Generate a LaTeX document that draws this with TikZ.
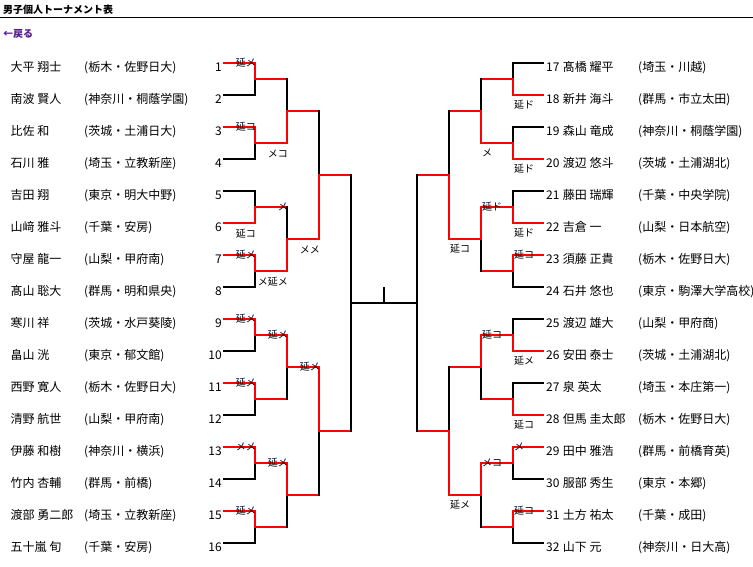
\documentclass[tikz,border=0pt]{standalone}
\usepackage{fontspec}
\setmainfont{Noto Sans CJK JP}
\usetikzlibrary{positioning,calc}

\definecolor{linkpurple}{RGB}{85,26,139}

\begin{document}
\begin{tikzpicture}[x=1pt,y=-1pt,
    every node/.style={inner sep=0pt},
    txt/.style={font=\fontsize{12}{14}\selectfont},
    res/.style={font=\fontsize{10}{12}\selectfont},
    win/.style={draw=red,line width=2pt,line cap=rect},
    lose/.style={draw=black,line width=2pt,line cap=rect}]

\useasboundingbox (0,0) rectangle (753,566);

\def\rowpitch{32}
\def\colpitch{32}

\newcommand\bout[6]
{
    \coordinate (#3-j) at ($(#1)!0.5!(#2)$);
    \coordinate (#3) at ([xshift=#6]#3-j);
    \draw [#4] (#1) -- (#3-j);
    \draw [#5] (#3-j) -- (#2);
    \draw [win] (#3-j) -- (#3);
}

\node [anchor=base west,font=\bfseries\fontsize{10}{12}\selectfont] (title) at (3,13) {男子個人トーナメント表};
\coordinate (rulel) at (0,17);
\coordinate (ruler) at (753,17);
\draw [line width=1pt] (rulel) -- (ruler);
\node [anchor=base west,font=\bfseries\fontsize{10}{12}\selectfont,text=linkpurple] (back) at (3,37) {←戻る};

\foreach \i/\nm/\sc/\st [evaluate=\i as \y using 63+\rowpitch*(\i-1)] in
    {1/{大平 翔士}/{(栃木・佐野日大)}/win, 2/{南波 賢人}/{(神奈川・桐蔭学園)}/lose,
     3/{比佐 和}/{(茨城・土浦日大)}/win, 4/{石川 雅}/{(埼玉・立教新座)}/lose,
     5/{吉田 翔}/{(東京・明大中野)}/lose, 6/{山﨑 雅斗}/{(千葉・安房)}/win,
     7/{守屋 龍一}/{(山梨・甲府南)}/win, 8/{髙山 聡大}/{(群馬・明和県央)}/lose,
     9/{寒川 祥}/{(茨城・水戸葵陵)}/win, 10/{畠山 洸}/{(東京・郁文館)}/lose,
     11/{西野 寛人}/{(栃木・佐野日大)}/win, 12/{清野 航世}/{(山梨・甲府南)}/lose,
     13/{伊藤 和樹}/{(神奈川・横浜)}/win, 14/{竹内 杏輔}/{(群馬・前橋)}/lose,
     15/{渡部 勇二郎}/{(埼玉・立教新座)}/win, 16/{五十嵐 旬}/{(千葉・安房)}/lose}
{
    \node [txt,anchor=base west] (nm\i) at (10.5,\y+8) {\nm};
    \node [txt,anchor=base west] (sc\i) at (84,\y+8) {\sc};
    \node [txt,anchor=base east] (no\i) at (222,\y+8) {\i};
    \coordinate (s\i) at (224,\y);
    \coordinate (p\i) at (255,\y);
    \draw [\st] (s\i) -- (p\i);
}

\foreach \i/\nm/\sc/\st [evaluate=\i as \y using 63+\rowpitch*(\i-17)] in
    {17/{髙橋 耀平}/{(埼玉・川越)}/lose, 18/{新井 海斗}/{(群馬・市立太田)}/win,
     19/{森山 竜成}/{(神奈川・桐蔭学園)}/lose, 20/{渡辺 悠斗}/{(茨城・土浦湖北)}/win,
     21/{藤田 瑞輝}/{(千葉・中央学院)}/lose, 22/{吉倉 一}/{(山梨・日本航空)}/win,
     23/{須藤 正貴}/{(栃木・佐野日大)}/win, 24/{石井 悠也}/{(東京・駒澤大学高校)}/lose,
     25/{渡辺 雄大}/{(山梨・甲府商)}/lose, 26/{安田 泰士}/{(茨城・土浦湖北)}/win,
     27/{泉 英太}/{(埼玉・本庄第一)}/lose, 28/{但馬 圭太郎}/{(栃木・佐野日大)}/win,
     29/{田中 雅浩}/{(群馬・前橋育英)}/win, 30/{服部 秀生}/{(東京・本郷)}/lose,
     31/{土方 祐太}/{(千葉・成田)}/win, 32/{山下 元}/{(神奈川・日大高)}/lose}
{
    \node [txt,anchor=base west] (no\i) at (546,\y+8) {\i};
    \node [txt,right=3pt of no\i.base east,anchor=base west] (nm\i) {\nm};
    \node [txt,anchor=base west] (sc\i) at (638,\y+8) {\sc};
    \coordinate (s\i) at (543,\y);
    \coordinate (p\i) at (513,\y);
    \draw [\st] (s\i) -- (p\i);
}

\foreach \m/\hi/\lo [evaluate=\m as \ua using int(2*\m-1), evaluate=\m as \ub using int(2*\m)] in
    {1/win/lose,2/win/lose,3/lose/win,4/win/lose,5/win/lose,6/win/lose,7/win/lose,8/win/lose}
    \bout{p\ua}{p\ub}{L1-\m}{\hi}{\lo}{\colpitch};
\foreach \m/\hi/\lo [evaluate=\m as \ua using int(2*\m-1), evaluate=\m as \ub using int(2*\m)] in
    {1/lose/win,2/lose/win,3/win/lose,4/win/lose}
    \bout{L1-\ua}{L1-\ub}{L2-\m}{\hi}{\lo}{\colpitch};
\foreach \m/\hi/\lo [evaluate=\m as \ua using int(2*\m-1), evaluate=\m as \ub using int(2*\m)] in
    {1/lose/win,2/win/lose}
    \bout{L2-\ua}{L2-\ub}{L3-\m}{\hi}{\lo}{\colpitch};

\foreach \m/\hi/\lo [evaluate=\m as \ua using int(16+2*\m-1), evaluate=\m as \ub using int(16+2*\m)] in
    {1/lose/win,2/lose/win,3/lose/win,4/win/lose,5/lose/win,6/lose/win,7/win/lose,8/win/lose}
    \bout{p\ua}{p\ub}{R1-\m}{\hi}{\lo}{-\colpitch};
\foreach \m/\hi/\lo [evaluate=\m as \ua using int(2*\m-1), evaluate=\m as \ub using int(2*\m)] in
    {1/lose/win,2/win/lose,3/win/lose,4/win/lose}
    \bout{R1-\ua}{R1-\ub}{R2-\m}{\hi}{\lo}{-\colpitch};
\foreach \m/\hi/\lo [evaluate=\m as \ua using int(2*\m-1), evaluate=\m as \ub using int(2*\m)] in
    {1/lose/win,2/lose/win}
    \bout{R2-\ua}{R2-\ub}{R3-\m}{\hi}{\lo}{-\colpitch};

\coordinate (Ls) at ($(L3-1)!0.5!(L3-2)$);
\coordinate (Rs) at ($(R3-1)!0.5!(R3-2)$);
\draw [lose] (L3-1) -- (L3-2);
\draw [lose] (R3-1) -- (R3-2);
\draw [lose] (Ls) -- (Rs);
\coordinate (fin) at ($(Ls)!0.5!(Rs)$);
\coordinate (champ) at ([yshift=15]fin);
\draw [lose] (fin) -- (champ);

\foreach \c/\lbl in {p1/延メ,p3/延コ,p7/延メ,p9/延メ,p11/延メ,p13/メメ,p15/延メ,L1-3/メ,L1-5/延メ,L1-7/延メ,L2-3/延メ}
    \node [res,anchor=base east] (t-\c) at ([xshift=1,yshift=-3]\c) {\lbl};
\foreach \c/\lbl in {p6/延コ,L1-2/メコ,L1-4/メ延メ,L2-2/メメ}
    \node [res,anchor=base east] (b-\c) at ([xshift=1,yshift=-14]\c) {\lbl};
\foreach \c/\lbl in {p23/延コ,p29/メ,p31/延コ,R1-3/延ド,R1-5/延コ,R1-7/メコ}
    \node [res,anchor=base west] (t-\c) at ([xshift=1,yshift=-3]\c) {\lbl};
\foreach \c/\lbl in {p18/延ド,p20/延ド,p22/延ド,p26/延メ,p28/延コ,R1-2/メ,R2-2/延コ,R2-4/延メ}
    \node [res,anchor=base west] (b-\c) at ([xshift=1,yshift=-13]\c) {\lbl};

\end{tikzpicture}
\end{document}
